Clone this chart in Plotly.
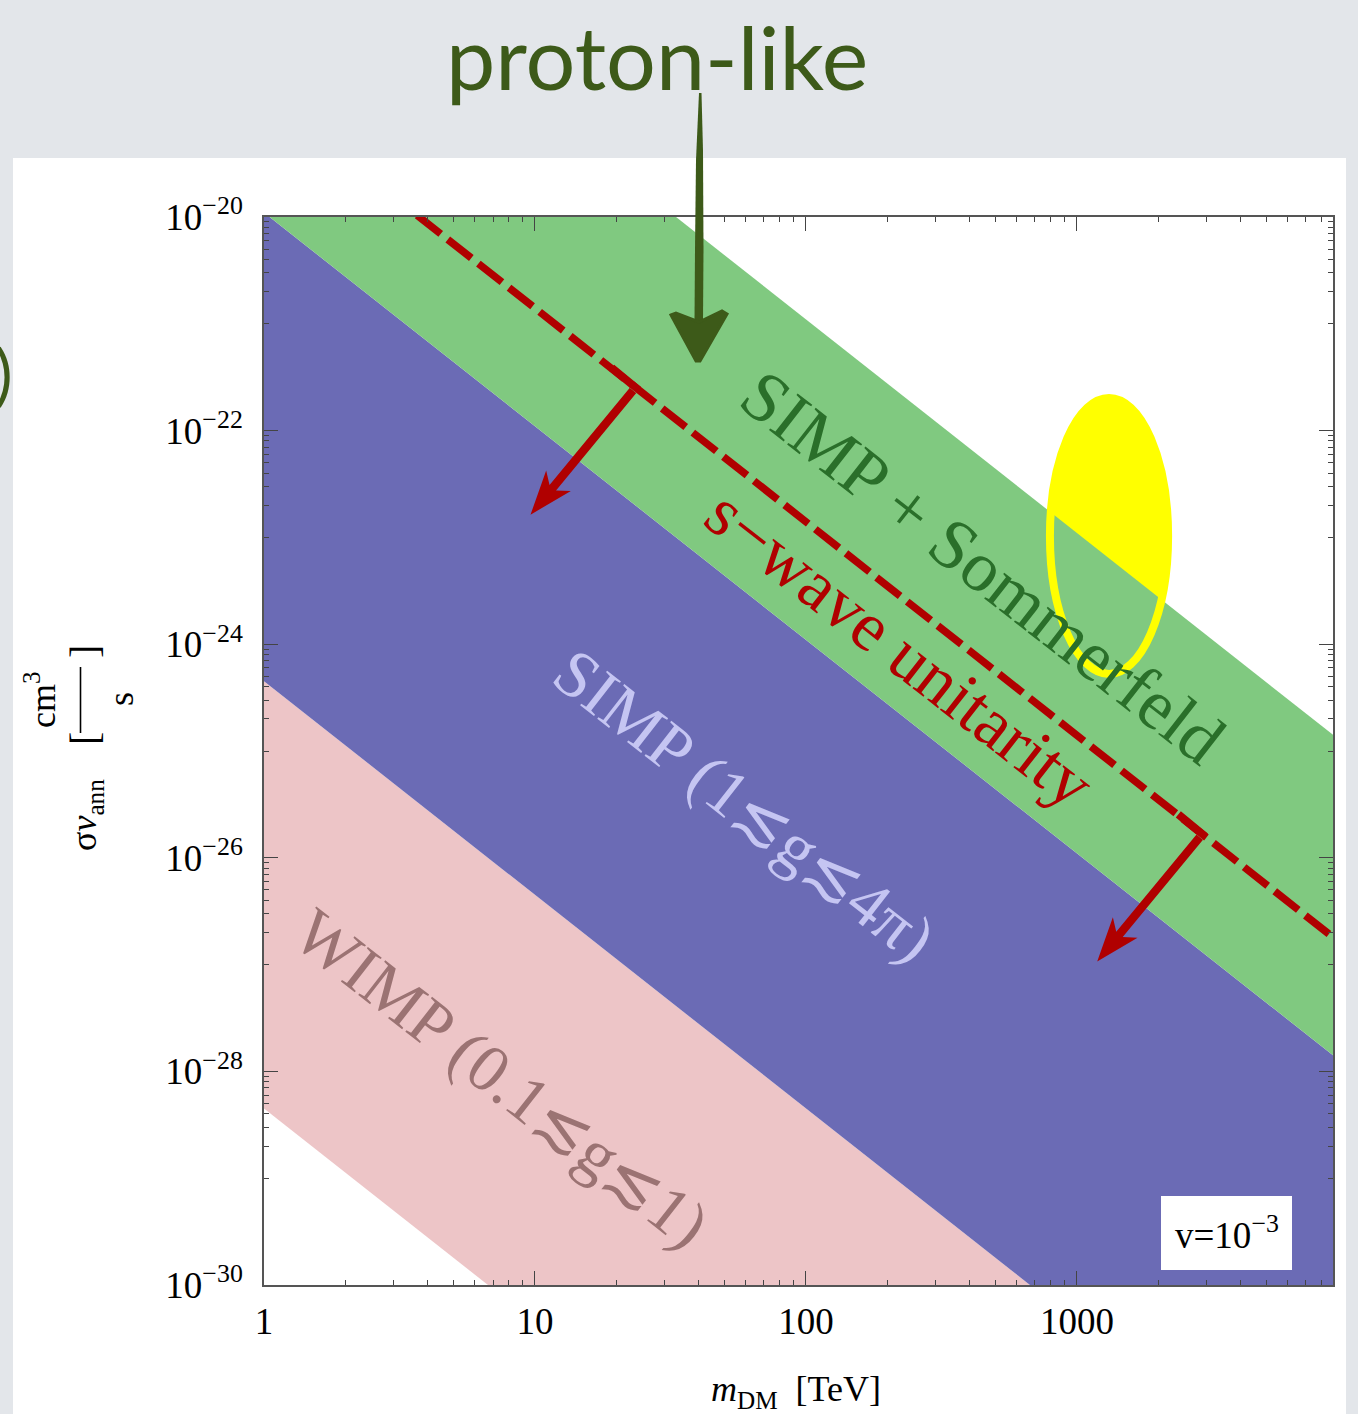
import numpy as np
import plotly.graph_objects as go

# ---- data: annihilation cross-section bands, sigma*v ~ 1/m^2 ----
mass_tev = [1.0, 1.0e4]
wimp_low = [4.5e-29, 4.5e-37]          # g ~ 0.1
wimp_high = [4.5e-25, 4.5e-33]         # g ~ 1
simp_high = [1.1e-20, 1.1e-28]         # g ~ 4 pi
sommerfeld_high = [1.1e-17, 1.1e-25]   # SIMP with Sommerfeld boost (v = 1e-3)
unitarity = [1.4e-19, 1.4e-27]         # s-wave unitarity bound

arrow_mass = [23.5, 2900.0]            # where the unitarity arrows sit on the line

# region highlighted by the yellow ellipse
ellipse_mass = [795.0, 2170.0]
ellipse_sigv = [5.26e-25, 2.02e-22]

x_tickvals = [1, 10, 100, 1000]
x_ticktext = ["1", "10", "100", "1000"]
y_exponents = [-30, -28, -26, -24, -22, -20]

X_MAX = 8810.0

# ---- page geometry (pixels) ----
W, H = 1358, 1414
PL, PR, PT, PB = 264, 1333, 217, 1285


def fx(px):
    return (px - PL) / (PR - PL)


def fy(py):
    return (PB - py) / (PB - PT)


SERIF = "Liberation Serif, Times New Roman, serif"
GREEN_DARK = "#3D5A19"
RED = "#B00000"

fig = go.Figure()


def band(lower, upper, color, name):
    fig.add_trace(go.Scatter(
        x=mass_tev + mass_tev[::-1],
        y=upper + lower[::-1],
        fill="toself", fillcolor=color, mode="none",
        line=dict(width=0), name=name, hoverinfo="skip", showlegend=False))


band(wimp_low, wimp_high, "#EDC5C7", "WIMP")
band(wimp_high, simp_high, "#6B6BB5", "SIMP")
band(simp_high, sommerfeld_high, "#80C980", "SIMP + Sommerfeld")

fig.add_trace(go.Scatter(
    x=mass_tev, y=unitarity, mode="lines",
    line=dict(color=RED, width=7.5, dash="30px,9px"),
    hoverinfo="skip", showlegend=False))

shapes = []

# white panel behind the frame
shapes.append(dict(type="rect", xref="paper", yref="paper",
                   x0=fx(13), x1=fx(1346), y0=fy(1420), y1=fy(158),
                   fillcolor="white", line=dict(width=0), layer="below"))

# yellow ellipse: filled part sits under the bands, outline on top
shapes.append(dict(type="circle", xref="x", yref="y",
                   x0=ellipse_mass[0], x1=ellipse_mass[1],
                   y0=ellipse_sigv[0], y1=ellipse_sigv[1],
                   fillcolor="#FFFF00", line=dict(width=0), layer="below"))
shapes.append(dict(type="circle", xref="x", yref="y",
                   x0=ellipse_mass[0], x1=ellipse_mass[1],
                   y0=ellipse_sigv[0], y1=ellipse_sigv[1],
                   line=dict(color="#FFFF00", width=8), layer="above"))


# red arrows pointing away from the unitarity line (pixel geometry)
def arrow_path(vx, vy, length=165, hw=4.2, head_len=44, head_hw=16, notch=9, bar=31):
    n = np.hypot(vx, vy)
    d = np.array([vx, vy]) / n
    nrm = np.array([d[1], -d[0]])
    p = lambda v: f"{v[0]:.2f},{v[1]:.2f}"
    tip = d * length
    back = d * (length - head_len)
    nb = d * (length - head_len + notch)
    pts = [nrm * hw, nb + nrm * hw, back + nrm * head_hw, tip,
           back - nrm * head_hw, nb - nrm * hw, -nrm * hw]
    s = "M" + " L".join(p(v) for v in pts) + " Z"
    # short bar lying along the line at the arrow base
    t = nrm
    bar_pts = [-t * 4 + d * 4, t * bar + d * 4, t * bar - d * 4, -t * 4 - d * 4]
    s += " M" + " L".join(p(v) for v in bar_pts) + " Z"
    return s


lm = np.log10(mass_tev)
lu = np.log10(unitarity)
for m in arrow_mass:
    sv = 10 ** np.interp(np.log10(m), lm, lu)
    shapes.append(dict(type="path", xref="x", yref="y",
                       xsizemode="pixel", ysizemode="pixel",
                       xanchor=m, yanchor=sv,
                       path=arrow_path(-104, -126),
                       fillcolor=RED, line=dict(width=0), layer="above"))


# hand-drawn style arrow under "proton-like"
def ppath(points):
    return "M" + " L".join(f"{fx(a):.5f},{fy(b):.5f}" for a, b in points) + " Z"


shaft = [(699.0, 93), (701.5, 93), (703.0, 150), (703.5, 250), (703.0, 322),
         (694.5, 322), (695.0, 250), (696.0, 160)]
head = [(671, 315), (676, 313), (699, 322), (722, 311), (727, 314),
        (700, 361), (696, 361)]
shapes.append(dict(type="path", xref="paper", yref="paper", path=ppath(shaft),
                   fillcolor=GREEN_DARK, line=dict(width=0), layer="above"))
shapes.append(dict(type="path", xref="paper", yref="paper", path=ppath(head),
                   fillcolor=GREEN_DARK, line=dict(color=GREEN_DARK, width=3), layer="above"))

# y-axis unit fraction bar
shapes.append(dict(type="line", xref="paper", yref="paper",
                   x0=fx(80.5), x1=fx(80.5), y0=fy(667), y1=fy(733),
                   line=dict(color="black", width=1.6)))

# box for velocity label
shapes.append(dict(type="rect", xref="paper", yref="paper",
                   x0=fx(1161), x1=fx(1292), y0=fy(1270), y1=fy(1196),
                   fillcolor="white", line=dict(width=0), layer="above"))

annotations = []


def label(text, px, py, size, color="black", angle=0, font=SERIF, xanchor="center"):
    annotations.append(dict(text=text, x=fx(px), y=fy(py), xref="paper", yref="paper",
                            showarrow=False, textangle=angle, xanchor=xanchor,
                            yanchor="middle",
                            font=dict(family=font, size=size, color=color)))


ANG = 38
label("SIMP + Sommerfeld", 983, 567, 71, "#2A6F2A", ANG)
label("s\u2212wave unitarity", 900, 648, 70, RED, ANG)
label("SIMP (1\u2272g\u22724\u03c0)", 745, 805, 67, "#C5C5F2", ANG)
label("WIMP (0.1\u2272g\u22721)", 502, 1078, 67, "#9B7373", ANG)

label("v=10<sup>\u22123</sup>", 1227, 1232, 37)

label("proton-like", 657, 56, 88, GREEN_DARK, font="Lato, sans-serif")
label(")", 15, 372, 66, GREEN_DARK, font="Lato, sans-serif", xanchor="right")

# axis titles
label("<i>m</i><sub>DM</sub>  [TeV]", 796, 1391, 36)
label("\u03c3<i>v</i><sub>ann</sub>", 87, 815, 36, angle=-90)
label("[", 84, 739, 40, angle=-90)
label("]", 84, 652, 40, angle=-90)
label("cm<sup>3</sup>", 40, 700, 36, angle=-90)
label("s", 121, 699, 36, angle=-90)

x_minor = [m * 10 ** k for k in range(0, 4) for m in range(2, 10) if m * 10 ** k < X_MAX]
y_minor = [m * 10.0 ** (e - 1) for e in y_exponents for m in range(1, 10)
           if m * 10.0 ** (e - 1) > 1e-30]

axis_common = dict(type="log", showgrid=False, zeroline=False, showline=True,
                   linecolor="#555555", linewidth=1.5, mirror="ticks",
                   ticks="inside", ticklen=14, tickwidth=1.2, tickcolor="#444444",
                   tickfont=dict(family=SERIF, size=37, color="black"))

fig.update_layout(
    width=W, height=H,
    margin=dict(l=PL, r=W - PR, t=PT, b=H - PB),
    paper_bgcolor="#E3E6EA", plot_bgcolor="rgba(0,0,0,0)",
    showlegend=False,
    xaxis=dict(range=[0, np.log10(X_MAX)], tickmode="array",
               tickvals=x_tickvals, ticktext=x_ticktext, ticklabelstandoff=3,
               minor=dict(tickmode="array", tickvals=x_minor, ticks="inside",
                          ticklen=5, tickwidth=1, tickcolor="#444444", showgrid=False),
               **axis_common),
    yaxis=dict(range=[-30, -20], tickmode="array",
               tickvals=[10.0 ** e for e in y_exponents],
               ticktext=[f"10<sup>\u2212{-e}</sup>" for e in y_exponents],
               ticklabelstandoff=12,
               minor=dict(tickmode="array", tickvals=y_minor, ticks="inside",
                          ticklen=5, tickwidth=1, tickcolor="#444444", showgrid=False),
               **axis_common),
    shapes=shapes,
    annotations=annotations,
)

fig.write_html("out.html")
